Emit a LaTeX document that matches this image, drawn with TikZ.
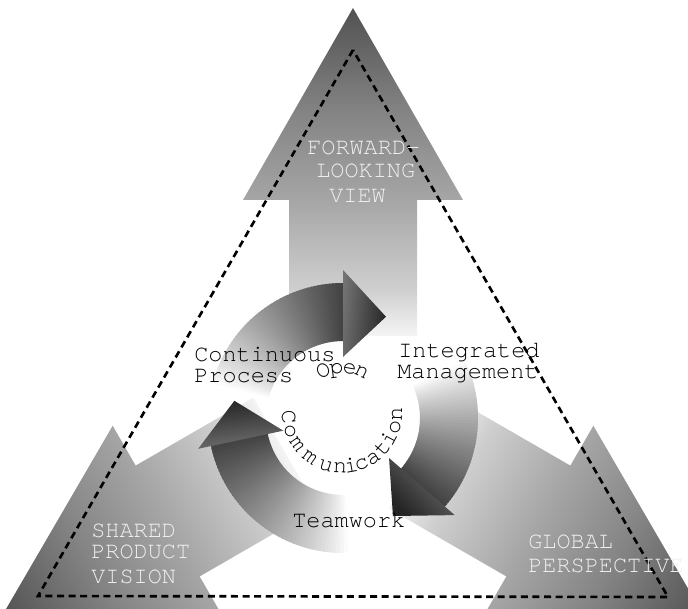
\documentclass[tikz,border=0pt]{standalone}
\usepackage{fontspec}
\newfontfamily\cour{TeX Gyre Cursor}
\usetikzlibrary{calc}
\pgfdeclareverticalshading{bigsh}{100bp}{color(0bp)=(black!4); color(25bp)=(black!4); color(32.2bp)=(black!19); color(45.7bp)=(black!35); color(58.8bp)=(black!48); color(75bp)=(black!68); color(100bp)=(black!68)}
\newcommand\BigArrowShape{\shade[shading=bigsh] (-64,78) -- (-64,214) -- (-110,214) -- (0,406) -- (110,214) -- (64,214) -- (64,78) -- cycle;}
\newcommand\CurvArrow[4]{%
  \begin{scope}[shift={(343,190)}]
  \foreach \i in {0,...,47}{%
    \pgfmathsetmacro\aA{#1+(#2-#1)*\i/48}%
    \pgfmathsetmacro\aB{#1+(#2-#1)*(\i+1.5)/48}%
    \pgfmathsetmacro\sv{74*((\i+0.5)/48)^0.85}%
    \fill[black!\sv] (\aA:77) arc[start angle=\aA, end angle=\aB, radius=77] -- (\aB:135) arc[start angle=\aB, end angle=\aA, radius=135] -- cycle;
  }
  \shade[top color=black!86, bottom color=black!55, shading angle=#4] (#2:61) -- (#2:148) -- (#3:110) -- cycle;
  \end{scope}}
\begin{document}
\begin{tikzpicture}[x=0.02cm,y=0.02cm,
  dashtri/.style={line width=1.5pt, dash pattern=on 4pt off 2.6pt},
  lbl/.style={font=\cour\fontsize{13.4}{13.4}\selectfont, inner sep=0pt, anchor=base west},
  wlbl/.style={lbl, text=white!94!black},
  crv/.style={font=\cour\fontsize{13.4}{13.4}\selectfont, inner sep=0pt, anchor=base}]
\useasboundingbox (0,0) rectangle (688,608);
\clip (0,0) rectangle (688,608);
% big arrows
\begin{scope}[shift={(353,194)}]
  \BigArrowShape
\end{scope}
\begin{scope}[transform canvas={rotate around={120:(353,194)}}]
  \begin{scope}[shift={(353,194)}]
    \BigArrowShape
  \end{scope}
\end{scope}
\begin{scope}[transform canvas={rotate around={-120:(353,194)}}]
  \begin{scope}[shift={(353,194)}]
    \BigArrowShape
  \end{scope}
\end{scope}
% dashed triangle
\coordinate (T1) at (353,558);
\coordinate (T2) at (38,12);
\coordinate (T3) at (668,11);
\draw[dashtri] (T1) -- (T2) -- (T3) -- cycle;
% curved arrows
\CurvArrow{165}{90}{67}{-95}
\CurvArrow{25}{-41}{-63}{134}
\CurvArrow{272}{192}{171}{7}
% labels
\node[wlbl] (fw1) at (307,453) {FORWARD-};
\node[wlbl] (fw2) at (316,430) {LOOKING};
\node[wlbl] (fw3) at (329,405) {VIEW};
\node[wlbl] (sp1) at (91,71) {SHARED};
\node[wlbl] (sp2) at (91,50) {PRODUCT};
\node[wlbl] (sp3) at (91,25) {VISION};
\node[wlbl] (gp1) at (528,60) {GLOBAL};
\node[wlbl] (gp2) at (528,36) {PERSPECTIVE};
\node[lbl] (cp1) at (194,246) {Continuous};
\node[lbl] (cp2) at (194,225) {Process};
\node[lbl] (im1) at (398,250) {Integrated};
\node[lbl] (im2) at (397,229) {Management};
\node[lbl] (tw) at (292,81) {Teamwork};
% curved text
\coordinate (TC) at (342,195);
\foreach \ch/\ang [count=\k] in {C/184,o/200,m/215,m/234,u/253,n/268,i/280,c/291,a/305,t/319,i/332,o/345,n/359}
  \node[crv, rotate=\ang+90] (oc\k) at ($(TC)+(\ang:60)$) {\ch};
\foreach \ch/\ang [count=\k] in {O/114,p/97,e/80,n/64}
  \node[crv, rotate=\ang-90] (op\k) at ($(TC)+(\ang:40)$) {\ch};
\end{tikzpicture}
\end{document}
